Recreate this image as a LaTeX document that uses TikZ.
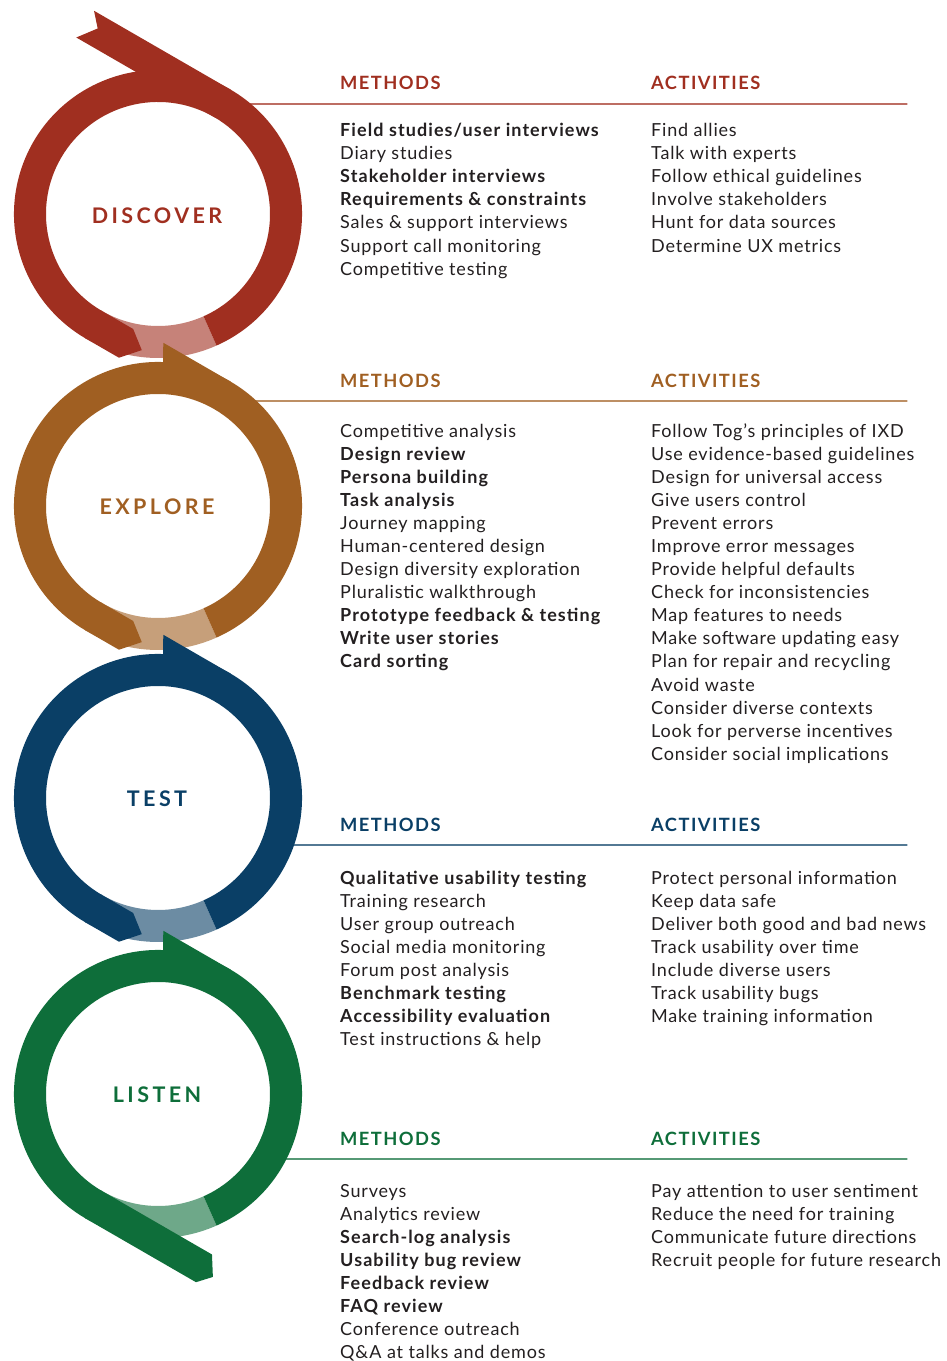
\documentclass[tikz,border=0pt]{standalone}
\usepackage{fontspec}
\setmainfont{Lato}[LetterSpace=4.5,BoldFeatures={LetterSpace=6}]
\newfontfamily\trackfont[LetterSpace=8]{Lato}
\newfontfamily\stagefont[LetterSpace=16]{Lato}
\definecolor{discover}{HTML}{A02F20}
\definecolor{explore}{HTML}{A05F22}
\definecolor{test}{HTML}{0A3F66}
\definecolor{listen}{HTML}{0E6E3A}
\definecolor{ink}{HTML}{231F20}
\begin{document}
\begin{tikzpicture}[x=1pt,y=1pt,line join=round,line cap=round,
	item/.style={anchor=base west,inner sep=0pt,text=ink,font=\fontsize{18}{20}\selectfont},
	head/.style={anchor=base west,inner sep=0pt,text=#1,font=\fontsize{18.3}{20}\selectfont\trackfont\bfseries},
	stage/.style={anchor=base,inner sep=0pt,text=#1,font=\fontsize{21.5}{24}\selectfont\stagefont\bfseries},
	rule/.style={draw=#1!70!white,line width=1.2pt}]
	\useasboundingbox (0,0) rectangle (947,1361);
	%Discover
	\draw[rule=discover] (224,1257) -- (907,1257);
	\begin{scope}[shift={(158,1147)}]
		\fill[discover!60!white] (240:144) arc[start angle=240,end angle=294,radius=144] -- (294:112) arc[start angle=294,end angle=240,radius=112] -- cycle;
		\fill[discover] (294:144) arc[start angle=294,end angle=600,radius=144] -- (240:112) arc[start angle=600,end angle=294,radius=112] -- cycle;
		\begin{scope}[shift={(240:128)},rotate=-30]
			\fill[discover] (-1,-16) -- (38,-16) -- (54,2) -- (36,16) -- (-1,16) -- cycle;
		\end{scope}
		\begin{scope}[shift={(60:128)},rotate=150]
			\fill[discover] (-1,-16) -- (157,-16) -- (145,-2.5) -- (159,16) -- (-1,16) -- cycle;
		\end{scope}
		\node[stage=discover] (dlab) at (-1,-9.3) {DISCOVER};
	\end{scope}
	\node[head=discover] (dmh) at (340,1271) {METHODS};
	\node[head=discover] (dah) at (651,1271) {ACTIVITIES};
	\foreach \t [count=\i] in {{\textbf{Field studies/user interviews}},Diary studies,{\textbf{Stakeholder interviews}},{\textbf{Requirements \& constraints}},Sales \& support interviews,Support call monitoring,Competitive testing}
		\node[item] (dm\i) at (340,{1224.3-23.07*(\i-1)}) {\t};
	\foreach \t [count=\i] in {Find allies,Talk with experts,Follow ethical guidelines,Involve stakeholders,Hunt for data sources,Determine UX metrics}
		\node[item] (da\i) at (651,{1224.3-23.07*(\i-1)}) {\t};
	%Explore
	\draw[rule=explore] (231,960) -- (907,960);
	\begin{scope}[shift={(158,855)}]
		\fill[explore!60!white] (240:144) arc[start angle=240,end angle=294,radius=144] -- (294:112) arc[start angle=294,end angle=240,radius=112] -- cycle;
		\fill[explore] (294:144) arc[start angle=294,end angle=600,radius=144] -- (240:112) arc[start angle=600,end angle=294,radius=112] -- cycle;
		\begin{scope}[shift={(240:128)},rotate=-30]
			\fill[explore] (-1,-16) -- (38,-16) -- (54,2) -- (36,16) -- (-1,16) -- cycle;
		\end{scope}
		\begin{scope}[shift={(60:128)},rotate=150]
			\fill[explore] (-1,-16) -- (77,-16) -- (67,2) -- (-1,2) -- cycle;
		\end{scope}
		\node[stage=explore] (elab) at (-1,-9) {EXPLORE};
	\end{scope}
	\node[head=explore] (emh) at (340,973) {METHODS};
	\node[head=explore] (eah) at (651,973) {ACTIVITIES};
	\foreach \t [count=\i] in {Competitive analysis,{\textbf{Design review}},{\textbf{Persona building}},{\textbf{Task analysis}},Journey mapping,Human-centered design,Design diversity exploration,Pluralistic walkthrough,{\textbf{Prototype feedback \& testing}},{\textbf{Write user stories}},{\textbf{Card sorting}}}
		\node[item] (em\i) at (340,{923.7-23.07*(\i-1)}) {\t};
	\foreach \t [count=\i] in {Follow Tog's principles of IXD,Use evidence-based guidelines,Design for universal access,Give users control,Prevent errors,Improve error messages,Provide helpful defaults,Check for inconsistencies,Map features to needs,Make software updating easy,Plan for repair and recycling,Avoid waste,Consider diverse contexts,Look for perverse incentives,Consider social implications}
		\node[item] (ea\i) at (651,{923.7-23.07*(\i-1)}) {\t};
	%Test
	\draw[rule=test] (277,516) -- (907,516);
	\begin{scope}[shift={(158,563)}]
		\fill[test!60!white] (240:144) arc[start angle=240,end angle=294,radius=144] -- (294:112) arc[start angle=294,end angle=240,radius=112] -- cycle;
		\fill[test] (294:144) arc[start angle=294,end angle=600,radius=144] -- (240:112) arc[start angle=600,end angle=294,radius=112] -- cycle;
		\begin{scope}[shift={(240:128)},rotate=-30]
			\fill[test] (-1,-16) -- (38,-16) -- (54,2) -- (36,16) -- (-1,16) -- cycle;
		\end{scope}
		\begin{scope}[shift={(60:128)},rotate=150]
			\fill[test] (-1,-16) -- (77,-16) -- (67,2) -- (-1,2) -- cycle;
		\end{scope}
		\node[stage=test] (tlab) at (-1,-8.7) {TEST};
	\end{scope}
	\node[head=test] (tmh) at (340,529) {METHODS};
	\node[head=test] (tah) at (651,529) {ACTIVITIES};
	\foreach \t [count=\i] in {{\textbf{Qualitative usability testing}},Training research,User group outreach,Social media monitoring,Forum post analysis,{\textbf{Benchmark testing}},{\textbf{Accessibility evaluation}},Test instructions \& help}
		\node[item] (tm\i) at (340,{476.5-23.07*(\i-1)}) {\t};
	\foreach \t [count=\i] in {Protect personal information,Keep data safe,Deliver both good and bad news,Track usability over time,Include diverse users,Track usability bugs,Make training information}
		\node[item] (ta\i) at (651,{476.5-23.07*(\i-1)}) {\t};
	%Listen
	\draw[rule=listen] (268,202) -- (907,202);
	\begin{scope}[shift={(158,267)}]
		\fill[listen!60!white] (240:144) arc[start angle=240,end angle=294,radius=144] -- (294:112) arc[start angle=294,end angle=240,radius=112] -- cycle;
		\fill[listen] (294:144) arc[start angle=294,end angle=600,radius=144] -- (240:112) arc[start angle=600,end angle=294,radius=112] -- cycle;
		\begin{scope}[shift={(240:128)},rotate=-30]
			\fill[listen] (-1,-16) -- (127,-16) -- (139,-3) -- (127,16) -- (-1,16) -- cycle;
		\end{scope}
		\begin{scope}[shift={(60:128)},rotate=150]
			\fill[listen] (-1,-16) -- (77,-16) -- (67,2) -- (-1,2) -- cycle;
		\end{scope}
		\node[stage=listen] (llab) at (-1,-8.7) {LISTEN};
	\end{scope}
	\node[head=listen] (lmh) at (340,215) {METHODS};
	\node[head=listen] (lah) at (651,215) {ACTIVITIES};
	\foreach \t [count=\i] in {Surveys,Analytics review,{\textbf{Search-log analysis}},{\textbf{Usability bug review}},{\textbf{Feedback review}},{\textbf{FAQ review}},Conference outreach,Q\&A at talks and demos}
		\node[item] (lm\i) at (340,{163.5-23.07*(\i-1)}) {\t};
	\foreach \t [count=\i] in {Pay attention to user sentiment,Reduce the need for training,Communicate future directions,Recruit people for future research}
		\node[item] (la\i) at (651,{163.5-23.07*(\i-1)}) {\t};
\end{tikzpicture}
\end{document}
